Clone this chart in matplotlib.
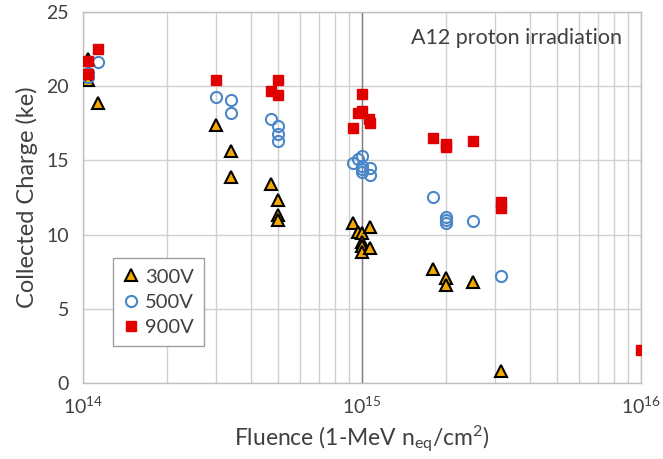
import matplotlib
matplotlib.use("Agg")
import matplotlib.pyplot as plt
from matplotlib.ticker import LogLocator, NullFormatter, FixedLocator

plt.rcParams['font.family'] = ['Lato', 'DejaVu Sans']
plt.rcParams['mathtext.fontset'] = 'custom'
plt.rcParams['mathtext.rm'] = 'Lato'
plt.rcParams['mathtext.it'] = 'Lato'

# fluence (1-MeV neq/cm2) and collected charge (ke) per bias voltage
fl_300 = [1.04e14, 1.04e14, 1.13e14, 3.0e14, 3.4e14, 3.4e14, 4.7e14, 5.0e14, 5.0e14, 5.0e14,
          9.3e14, 9.7e14, 1.0e15, 1.0e15, 1.0e15, 1.0e15, 1.07e15, 1.07e15,
          1.8e15, 2.0e15, 2.0e15, 2.5e15, 3.15e15]
q_300 = [21.8, 20.4, 18.9, 17.4, 15.6, 13.9, 13.4, 12.3, 11.3, 11.0,
         10.8, 10.2, 10.1, 9.5, 9.2, 8.8, 10.5, 9.1,
         7.7, 7.1, 6.6, 6.8, 0.8]

fl_500 = [1.04e14, 1.04e14, 1.13e14, 3.0e14, 3.4e14, 3.4e14, 4.7e14, 5.0e14, 5.0e14, 5.0e14,
          9.3e14, 9.7e14, 1.0e15, 1.0e15, 1.0e15, 1.0e15, 1.07e15, 1.07e15,
          1.8e15, 2.0e15, 2.0e15, 2.0e15, 2.5e15, 3.15e15]
q_500 = [20.9, 20.6, 21.6, 19.3, 19.1, 18.2, 17.8, 17.3, 16.8, 16.3,
         14.8, 15.1, 15.3, 14.6, 14.4, 14.2, 14.5, 14.0,
         12.5, 11.2, 11.0, 10.8, 10.9, 7.2]

fl_900 = [1.04e14, 1.04e14, 1.13e14, 3.0e14, 4.7e14, 5.0e14, 5.0e14,
          9.3e14, 9.7e14, 1.0e15, 1.0e15, 1.06e15, 1.07e15,
          1.8e15, 2.0e15, 2.0e15, 2.5e15, 3.15e15, 3.15e15, 1.0e16]
q_900 = [21.7, 20.8, 22.5, 20.4, 19.7, 20.4, 19.4,
         17.2, 18.2, 19.5, 18.3, 17.8, 17.5,
         16.5, 16.1, 15.9, 16.3, 12.2, 11.8, 2.2]

fig = plt.figure(figsize=(6.63, 4.59), dpi=100)
ax = fig.add_axes([0.1252, 0.1656, 0.8416, 0.8083])

ax.set_xscale('log')
ax.set_xlim(1e14, 1e16)
ax.set_ylim(0, 25)
ax.set_yticks([0, 5, 10, 15, 20, 25])
ax.xaxis.set_major_locator(FixedLocator([1e14, 1e15, 1e16]))
ax.xaxis.set_minor_locator(LogLocator(base=10, subs=range(2, 10)))
ax.xaxis.set_minor_formatter(NullFormatter())

grid_c = '#d0d0d0'
ax.grid(True, which='both', color=grid_c, linewidth=1.0)
ax.axvline(1e15, color='#808080', linewidth=1.0, zorder=1.5)
ax.set_axisbelow(True)
for s in ax.spines.values():
    s.set_color('#bfbfbf')
    s.set_linewidth(1.0)

ax.tick_params(which='both', length=0, labelsize=14, colors='#404040', pad=9)
ax.tick_params(axis='y', pad=10)

ax.plot(fl_300, q_300, linestyle='none', marker='^', markersize=8.5,
        markerfacecolor='#f5a800', markeredgecolor='black', markeredgewidth=1.5,
        label='300V', zorder=3)
ax.plot(fl_500, q_500, linestyle='none', marker='o', markersize=8,
        markerfacecolor='none', markeredgecolor='#4a86c8', markeredgewidth=1.5,
        label='500V', zorder=3)
ax.plot(fl_900, q_900, linestyle='none', marker='s', markersize=6.5,
        markerfacecolor='#e00000', markeredgecolor='#e00000',
        label='900V', zorder=4)

ax.set_xlabel(r'Fluence (1-MeV n$\mathregular{_{eq}}$/cm$\mathregular{^2}$)',
              fontsize=16.5, color='#404040', labelpad=5)
ax.set_ylabel('Collected Charge (ke)', fontsize=17, color='#404040', labelpad=6)

ax.text(0.966, 0.93, 'A12 proton irradiation', transform=ax.transAxes,
        ha='right', va='center', fontsize=15.5, color='#404040')

leg = ax.legend(loc='lower left', bbox_to_anchor=(0.054, 0.10), fontsize=14.5,
                fancybox=False, framealpha=1, edgecolor='#a0a0a0',
                handlelength=0.8, handletextpad=0.3, borderpad=0.5,
                labelspacing=0.4, borderaxespad=0)
leg.get_frame().set_linewidth(1.0)
for t in leg.get_texts():
    t.set_color('#404040')

fig.savefig('out.png', dpi=100)
